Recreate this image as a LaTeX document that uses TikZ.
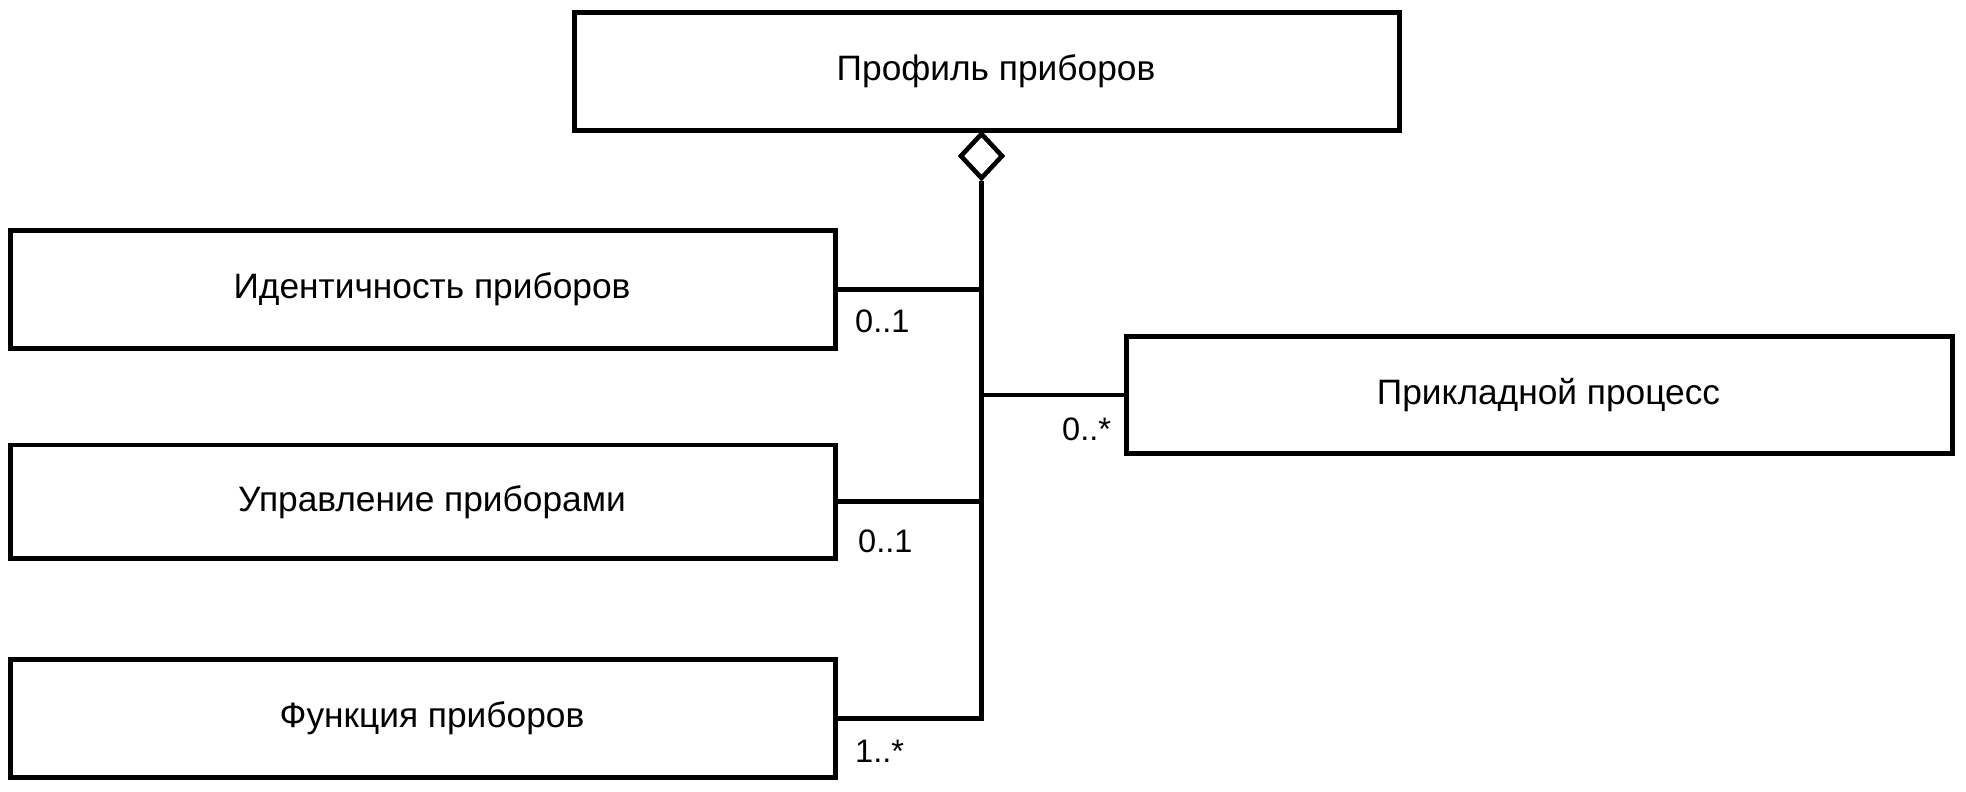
\documentclass[tikz,border=0pt]{standalone}
\usepackage{fontspec}
\setmainfont{Liberation Sans}
\usetikzlibrary{shapes.geometric}
\begin{document}
\begin{tikzpicture}[x=1pt,y=-1pt,
  box/.style={draw, line width=4.8pt, rectangle, inner sep=0pt, minimum width=825pt,
    font=\fontsize{35.3pt}{42pt}\selectfont, execute at begin node={\hspace*{18pt}}},
  conn/.style={draw, line width=4.6pt},
  lab/.style={inner sep=0pt, anchor=base west, font=\fontsize{32.5pt}{39pt}\selectfont}]
\useasboundingbox (0,0) rectangle (1966,792);
\node[box, minimum height=118pt] (prof) at (987,71.5) {Профиль приборов};
\node[box, minimum height=118pt] (ident) at (423,289.5) {Идентичность приборов};
\node[box, minimum height=113.5pt] (upr) at (423,501.75) {Управление приборами};
\node[box, minimum height=118pt] (funk) at (423,718.5) {Функция приборов};
\node[box, minimum width=826pt, minimum height=117pt] (proc) at (1539.5,395) {Прикладной процесс};
\node[draw, line width=4.6pt, diamond, inner sep=0pt, minimum width=43pt, minimum height=46pt] (dia) at (981.5,156) {};
\draw[conn] (dia.south) |- (funk.east);
\draw[conn] (ident.east) -- (ident.east -| dia.south);
\draw[conn] (upr.east) -- (upr.east -| dia.south);
\draw[conn] (proc.west) -- (proc.west -| dia.south);
\node[lab] (l1) at (855,332) {0..1};
\node[lab] (l2) at (858,552) {0..1};
\node[lab] (l3) at (855,762) {1..*};
\node[lab] (l4) at (1062,440) {0..*};
\end{tikzpicture}
\end{document}
